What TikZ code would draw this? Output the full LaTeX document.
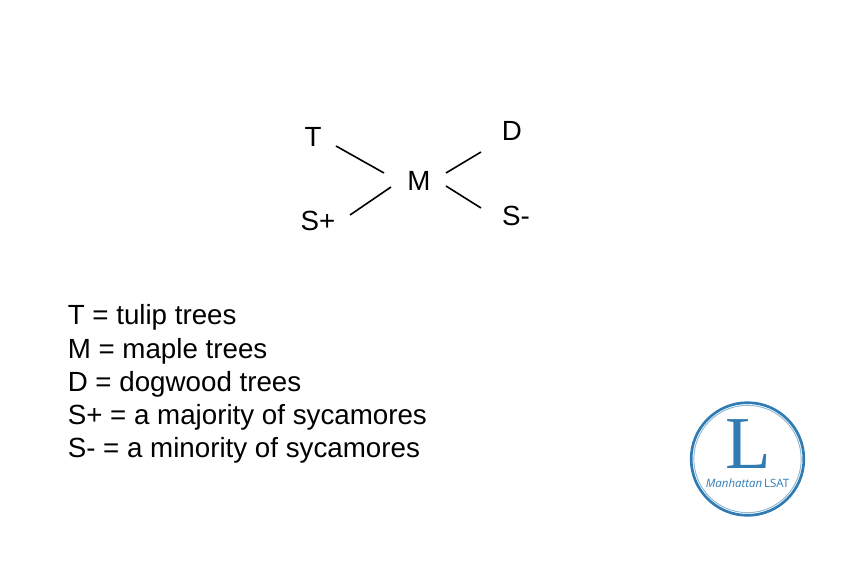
\documentclass[tikz,border=0pt]{standalone}
\usepackage{fontspec}
\setmainfont{Liberation Sans}
\newfontfamily\logoserif{Liberation Serif}
\newfontfamily\logosans{Open Sans}
\usepackage{xcolor}
\definecolor{LogoBlue}{HTML}{2F7BB2}
\definecolor{LogoPale}{HTML}{8DB8D6}
\usepackage{tikz}
\usetikzlibrary{positioning,calc}

\begin{document}
\begin{tikzpicture}[
  x=0.75pt, y=-0.75pt,
  lbl/.style={font=\fontsize{20.8}{24}\selectfont, inner sep=0pt, anchor=base},
  key/.style={font=\fontsize{20.8}{24}\selectfont, inner sep=0pt, anchor=base west},
  link/.style={line width=1.2pt, black}
]
  \useasboundingbox (0,0) rectangle (863,565);
  % tree letters
  \node[lbl] (m) at (419,190.5) {M};
  \node[lbl] (t) at (313,146.5) {T};
  \node[lbl] (d) at (512,140.5) {D};
  \node[lbl] (splus) at (318,230.5) {S+};
  \node[lbl] (sminus) at (516,225.5) {S-};
  \draw[link] ([shift={(23,-0.5)}]t.base) -- ([shift={(-35,-17.5)}]m.base);
  \draw[link] ([shift={(32,-15.5)}]splus.base) -- ([shift={(-28,-3.5)}]m.base);
  \draw[link] ([shift={(-31,11.5)}]d.base) -- ([shift={(27,-17.5)}]m.base);
  \draw[link] ([shift={(-35,-17.5)}]sminus.base) -- ([shift={(27,-4.5)}]m.base);
  % key
  \node[key] (keyt) at (67.5,324) {T = tulip trees};
  \node[key] (keym) at (67.5,358) {M = maple trees};
  \node[key] (keyd) at (67.5,391) {D = dogwood trees};
  \node[key] (keyplus) at (67.5,424) {S+ = a majority of sycamores};
  \node[key] (keyminus) at (67.5,457) {S- = a minority of sycamores};
  % logo
  \node[circle, draw=LogoBlue, line width=2pt, minimum size=84.5pt, inner sep=0pt] (logo) at (747.5,459) {};
  \node[circle, draw=LogoPale, line width=0.7pt, minimum size=80.5pt, inner sep=0pt] (logoin) at (logo) {};
  \node[inner sep=0pt, anchor=base, text=LogoBlue, font=\logoserif\fontsize{56}{56}\selectfont] (logol) at (748.5,468) {L};
  \node[inner sep=0pt, anchor=base, text=LogoBlue, font=\logosans\fontsize{8.6}{8.6}\selectfont] (logoname) at (747.5,487) {\textit{Manhattan}\,LSAT};
\end{tikzpicture}
\end{document}
